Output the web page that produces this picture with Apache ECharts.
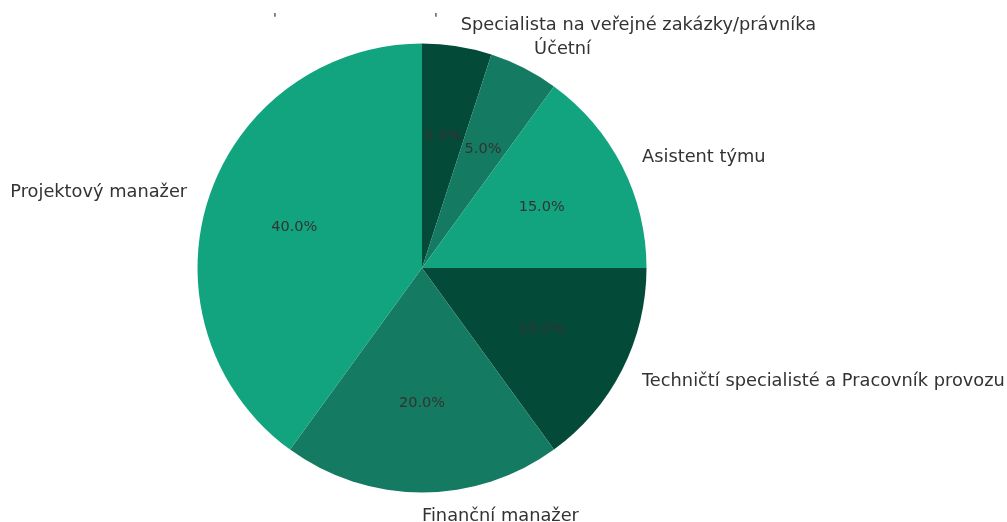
<!DOCTYPE html>
<html>
<head>
<meta charset="utf-8">
<script src="https://cdn.jsdelivr.net/npm/echarts@6/dist/echarts.min.js"></script>
<style>html,body{margin:0;padding:0;background:#fff;}#c{width:1007px;height:522px;}</style>
</head>
<body>
<div id="c"></div>
<script>
var categories = ["Specialista na veřejné zakázky/právníka", "Účetní", "Asistent týmu", "Techničtí specialisté a Pracovník provozu", "Finanční manažer", "Projektový manažer"];
var values = [5, 5, 15, 15, 20, 40];
var colors = ["#034a38", "#157a62", "#12a37f", "#034a38", "#157a62", "#12a37f"];

var total = values.reduce(function(a, b){ return a + b; }, 0);
var R = 224.5;
var center = [422, 268];
var font = "DejaVu Sans";

function midSide(i) {
  var cum = 0;
  for (var k = 0; k < i; k++) cum += values[k];
  var mid = (cum + values[i] / 2) / total * 360;
  return Math.sin(mid * Math.PI / 180);
}

var chart = echarts.init(document.getElementById('c'), null, {renderer: 'canvas'});
chart.setOption({
  animation: false,
  backgroundColor: '#ffffff',
  graphic: [
    {type: 'text', left: 273, top: 12, style: {text: "'", font: '14px "DejaVu Sans"', fill: '#333333'}},
    {type: 'text', left: 434, top: 12, style: {text: "'", font: '14px "DejaVu Sans"', fill: '#333333'}}
  ],
  series: [
    {
      type: 'pie',
      center: center,
      radius: [0, R],
      startAngle: 90,
      clockwise: true,
      silent: true,
      label: {show: false},
      labelLine: {show: false},
      itemStyle: {borderWidth: 0},
      data: categories.map(function(n, i){ return {name: n, value: values[i], itemStyle: {color: colors[i]}}; })
    },
    {
      type: 'pie',
      center: center,
      radius: [R * 0.17, R],
      startAngle: 90,
      clockwise: true,
      silent: true,
      itemStyle: {color: 'rgba(0,0,0,0)', borderWidth: 0},
      label: {
        show: true, position: 'inside', color: '#333333',
        fontFamily: font, fontSize: 14.5,
        formatter: function(p){ return (p.value / total * 100).toFixed(1) + '%'; }
      },
      labelLayout: function(p){ return {dy: 0.5, hideOverlap: false}; },
      labelLine: {show: false},
      emphasis: {disabled: true},
      data: categories.map(function(n, i){ return {name: n, value: values[i]}; })
    },
    {
      type: 'pie',
      center: center,
      radius: [R, R * 1.2 - 6],
      startAngle: 90,
      clockwise: true,
      silent: true,
      itemStyle: {color: 'rgba(0,0,0,0)', borderWidth: 0},
      label: {
        show: true, position: 'inside', color: '#333333',
        fontFamily: font, fontSize: 17.8,
        formatter: '{b}'
      },
      labelLayout: function(p){
        return {align: midSide(p.dataIndex) >= -1e-9 ? 'left' : 'right', dy: 1, hideOverlap: false};
      },
      labelLine: {show: false},
      emphasis: {disabled: true},
      data: categories.map(function(n, i){ return {name: n, value: values[i]}; })
    }
  ]
});
</script>
</body>
</html>
